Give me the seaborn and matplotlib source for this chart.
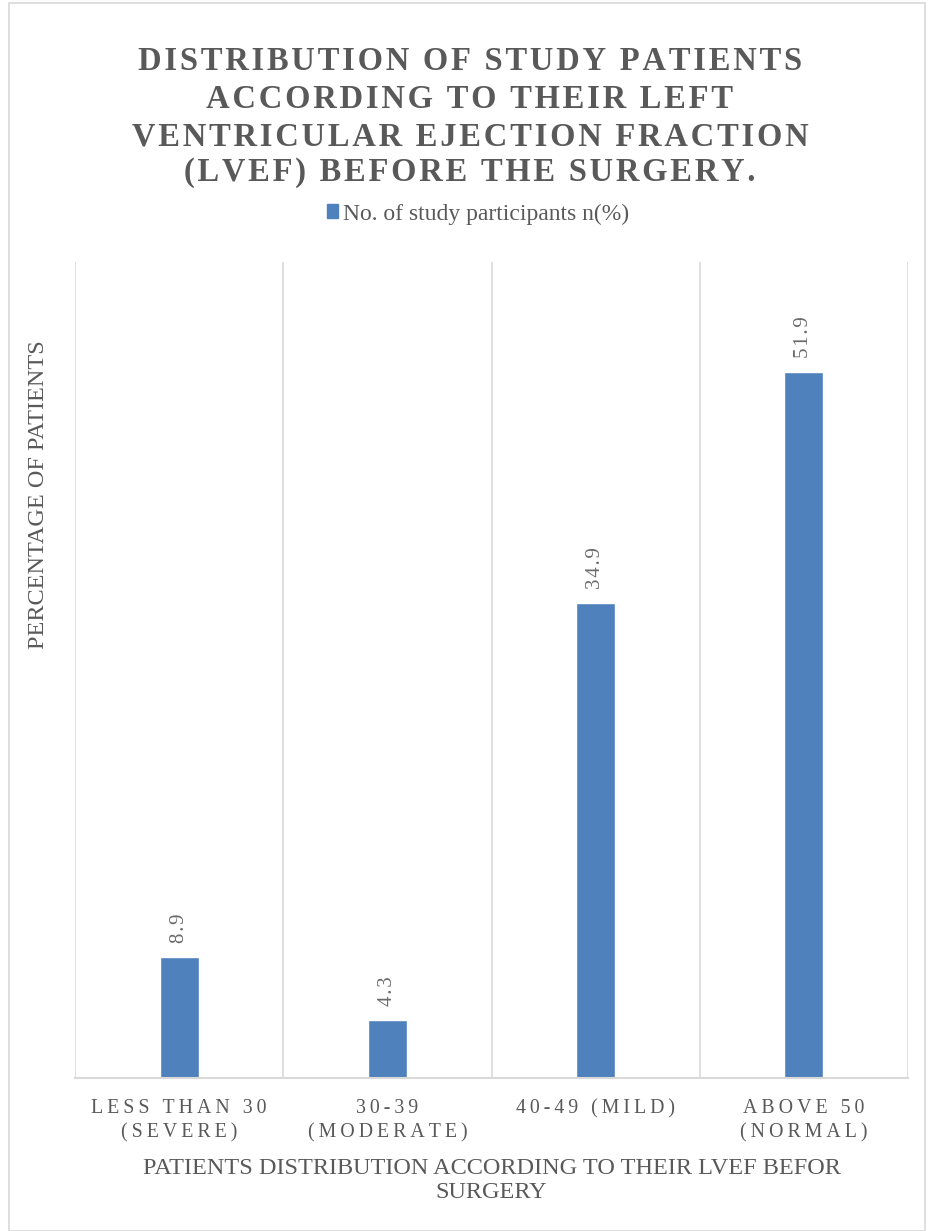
import matplotlib
matplotlib.use("Agg")
import matplotlib.pyplot as plt
import seaborn as sns
import pandas as pd
from matplotlib.patches import Rectangle

categories = ["LESS THAN 30\n(SEVERE)", "30-39\n(MODERATE)", "40-49 (MILD)", "ABOVE 50\n(NORMAL)"]
values = [8.9, 4.3, 34.9, 51.9]
series_name = "No. of study participants n(%)"
title_lines = ["DISTRIBUTION OF STUDY PATIENTS", "ACCORDING TO THEIR LEFT",
               "VENTRICULAR EJECTION FRACTION", "(LVEF) BEFORE THE SURGERY."]
xlabel = "PATIENTS DISTRIBUTION ACCORDING TO THEIR LVEF BEFOR\nSURGERY"
ylabel = "PERCENTAGE OF PATIENTS"

sns.set_theme(style="white")
plt.rcParams['font.family'] = ['Liberation Serif', 'DejaVu Serif']

BAR = "#4F81BD"
GRAY = "#595959"
GRID = "#D9D9D9"

def spaced(s, sep="\u200a"):
    return "\n".join(sep.join(line) for line in s.split("\n"))

df = pd.DataFrame({"cat": categories, "val": values, "series": series_name})

W, H = 935, 1231
fig = plt.figure(figsize=(W / 100, H / 100), dpi=100)
ax = fig.add_axes([75 / W, 1 - 1078 / H, (908 - 75) / W, (1078 - 262) / H])

sns.barplot(data=df, x="cat", y="val", hue="series", palette=[BAR], width=0.187,
            ax=ax, legend=False, saturation=1)

ax.set_ylim(0, 60)
ax.set_xlim(-0.5, 3.5)
ax.set_yticks([])
for b in [-0.5, 0.5, 1.5, 2.5, 3.5]:
    ax.axvline(b, color=GRID, lw=1.2, zorder=0)
for s in ["top", "right", "left"]:
    ax.spines[s].set_visible(False)
ax.spines["bottom"].set_color(GRID)
ax.spines["bottom"].set_linewidth(1.5)

ax.set_xticks(range(len(categories)))
ax.set_xticklabels([spaced(c, "\u2009") for c in categories], fontsize=14.3, color=GRAY,
                   linespacing=1.4)
ax.tick_params(axis="x", length=0, pad=15)

for i, v in enumerate(values):
    ax.annotate(spaced(f"{v}", "\u200a"), (i, v), xytext=(0, 10), textcoords="offset points",
                rotation=90, ha="center", va="bottom", fontsize=15, color="#6b6b6b")

ax.set_xlabel(xlabel, fontsize=17.5, color=GRAY, labelpad=11, linespacing=1.2)
ax.set_ylabel(ylabel, fontsize=17.5, color=GRAY)
ax.yaxis.set_label_coords(-26 / (908 - 75), (1078 - 495) / (1078 - 262))

ys = [62, 100, 137, 173]
for line, y in zip(title_lines, ys):
    fig.text(470 / W, 1 - y / H, spaced(line, "\u200a"), ha="center", va="center",
             fontsize=23.5, fontweight="bold", color=GRAY)

# legend
leg_handle = Rectangle((0, 0), 1, 1, color=BAR)
fig.legend([leg_handle], [series_name], loc="center", bbox_to_anchor=(478 / W, 1 - 214 / H),
           frameon=False, fontsize=17, handlelength=0.5, handleheight=0.5,
           handletextpad=0.2, labelcolor=GRAY)

fig.patches.append(Rectangle((9 / W, 0), (925 - 9) / W, 1 - 3 / H, transform=fig.transFigure,
                             fill=False, edgecolor="#D9D9D9", lw=1.2))

fig.savefig("out.png", dpi=100, facecolor="white")
